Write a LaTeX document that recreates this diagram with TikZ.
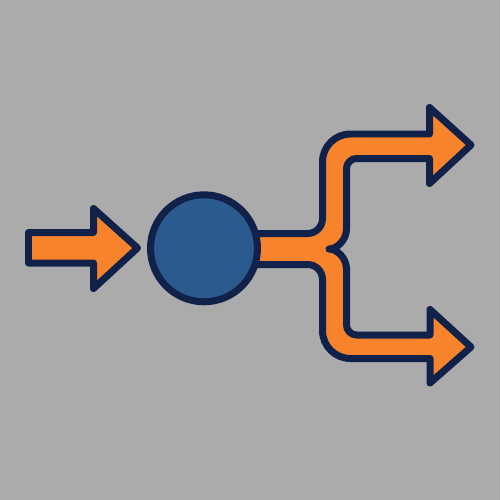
\documentclass[tikz,border=0pt]{standalone}
\usepackage{tikz}
\usetikzlibrary{positioning}
\definecolor{bggray}{HTML}{ABABAB}
\definecolor{navyline}{HTML}{11224A}
\definecolor{flowor}{HTML}{F7832D}
\definecolor{hubblue}{HTML}{2B5B8E}

\begin{document}
\begin{tikzpicture}[
x=0.02cm,y=-0.02cm,
flow/.style={fill=flowor,draw=navyline,line width=0.14cm,line join=round},
hubnode/.style={circle,fill=hubblue,draw=navyline,line width=0.14cm,minimum size=2.14cm,inner sep=0pt},
scale=1]
% Background
\fill[bggray] (0,0) rectangle (500,500);
\useasboundingbox (0,0) rectangle (500,500);

% Incoming arrow
\draw[flow] (28.5,232.5) -- (93.5,232.5) -- (93.5,208.5) -- (137.5,248) -- (93.5,288.5) -- (93.5,263) -- (28.5,263) -- cycle;

% Split arrows
\draw[flow] (250,233.5) -- (307.5,233.5)
  .. controls (315.8,233.5) and (322.5,226.8) .. (322.5,218.5)
  -- (322.5,162)
  .. controls (322.5,146.5) and (335,134) .. (350.5,134)
  -- (429.5,134) -- (429.5,107.5) -- (471,145) -- (429.5,183.5) -- (429.5,158.5)
  -- (356.5,158.5)
  .. controls (351,158.5) and (346.5,163) .. (346.5,168.5)
  -- (346.5,229)
  .. controls (346.5,240) and (337,249) .. (329,249)
  .. controls (337,249) and (346.5,258) .. (346.5,269)
  -- (346.5,325)
  .. controls (346.5,330.5) and (351,335) .. (356.5,335)
  -- (430,335) -- (430,309.5) -- (471,347) -- (430,383) -- (430,358.5)
  -- (350.5,358.5)
  .. controls (335,358.5) and (322.5,346) .. (322.5,330.5)
  -- (322.5,279.5)
  .. controls (322.5,271.2) and (315.8,264.5) .. (307.5,264.5)
  -- (250,264.5) -- cycle;

% Hub
\node[hubnode] (hub) at (204,248.3) {};

\end{tikzpicture}
\end{document}
